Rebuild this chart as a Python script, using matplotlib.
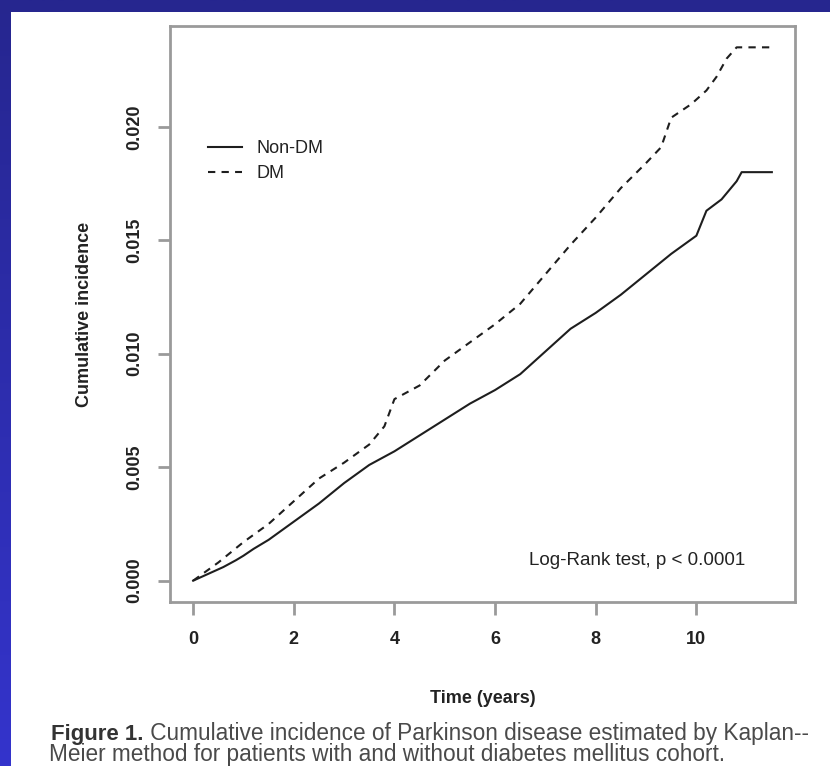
import matplotlib
matplotlib.use("Agg")
import numpy as np
import matplotlib.pyplot as plt
from matplotlib.patches import Rectangle
from matplotlib.colors import LinearSegmentedColormap

plt.rcParams['font.family'] = ['Liberation Sans', 'DejaVu Sans']

# Kaplan-Meier cumulative incidence
non_dm_t = [0, 0.3, 0.6, 0.85, 1.0, 1.2, 1.5, 2.0, 2.5, 3.0, 3.5, 4.0, 4.5, 5.0,
            5.5, 6.0, 6.5, 7.0, 7.5, 8.0, 8.5, 9.0, 9.5, 10.0, 10.2, 10.5, 10.8,
            10.9, 11.5]
non_dm_y = [0, 0.0003, 0.0006, 0.0009, 0.0011, 0.0014, 0.0018, 0.0026, 0.0034,
            0.0043, 0.0051, 0.0057, 0.0064, 0.0071, 0.0078, 0.0084, 0.0091,
            0.0101, 0.0111, 0.0118, 0.0126, 0.0135, 0.0144, 0.0152, 0.0163,
            0.0168, 0.0176, 0.0180, 0.0180]

dm_t = [0, 0.5, 1.0, 1.5, 2.0, 2.5, 3.0, 3.5, 3.8, 4.0, 4.5, 5.0, 5.5, 6.0, 6.5,
        7.0, 7.5, 8.0, 8.5, 9.0, 9.3, 9.5, 9.9, 10.2, 10.4, 10.6, 10.8, 11.5]
dm_y = [0, 0.0008, 0.0017, 0.0025, 0.0035, 0.0045, 0.0052, 0.0060, 0.0068,
        0.0080, 0.0086, 0.0097, 0.0105, 0.0113, 0.0122, 0.0135, 0.0148, 0.0160,
        0.0173, 0.0184, 0.0191, 0.0204, 0.0210, 0.0216, 0.0222, 0.0230, 0.0235,
        0.0235]

x_ticks = [0, 2, 4, 6, 8, 10]
y_ticks = [0.000, 0.005, 0.010, 0.015, 0.020]
y_tick_labels = ["0.000", "0.005", "0.010", "0.015", "0.020"]

W, H = 830, 766
fig = plt.figure(figsize=(W / 100, H / 100), dpi=100)

# blue slide background, a little lighter towards the bottom
bg = fig.add_axes([0, 0, 1, 1], zorder=-10)
bg.imshow(np.linspace(0, 1, 256).reshape(-1, 1), aspect='auto', extent=(0, 1, 0, 1),
          cmap=LinearSegmentedColormap.from_list('slide', ['#26268f', '#3434cc']))
bg.set_axis_off()
bg.add_patch(Rectangle((11 / W, 0), 1, (H - 12) / H, facecolor='white', edgecolor='none'))
bg.set_xlim(0, 1)
bg.set_ylim(0, 1)

ax = fig.add_axes([170 / W, (H - 602) / H, (795 - 170) / W, (602 - 26) / H])
ax.patch.set_alpha(0)
ax.plot(non_dm_t, non_dm_y, color='#1e1e1e', lw=1.5, label='Non-DM')
ax.plot(dm_t, dm_y, color='#1e1e1e', lw=1.5, dashes=(3.5, 3), label='DM')

ax.set_xlim(-0.46, 11.96)
ax.set_ylim(-0.00094, 0.02444)
ax.set_xticks(x_ticks)
ax.set_xticklabels([str(v) for v in x_ticks], fontweight='bold', fontsize=13, color='#222222')
ax.set_yticks(y_ticks)
ax.set_yticklabels(y_tick_labels, rotation=90, va='center', fontweight='bold',
                   fontsize=13, color='#222222')
for s in ax.spines.values():
    s.set_color('#9a9a9a')
    s.set_linewidth(2)
ax.tick_params(axis='both', length=9, width=2, color='#9a9a9a')
ax.tick_params(axis='x', pad=12)
ax.tick_params(axis='y', pad=10)

ax.set_xlabel('Time (years)', fontweight='bold', fontsize=13, color='#222222', labelpad=30)
ax.set_ylabel('Cumulative incidence', fontweight='bold', fontsize=13, color='#222222', labelpad=24)

ax.legend(loc='upper left', bbox_to_anchor=(0.035, 0.83), frameon=False, fontsize=13,
          handlelength=1.9, handletextpad=0.8, labelspacing=0.45, labelcolor='#222222')
ax.text(0.575, 0.0712, 'Log-Rank test, p < 0.0001', transform=ax.transAxes,
        fontsize=13.5, color='#222222', va='center')

# caption
t1 = fig.text(51 / W, 1 - 740 / H, 'Figure 1.', fontweight='bold', fontsize=16,
              color='#333333', va='baseline')
fig.add_artist(matplotlib.text.Annotation(
    ' Cumulative incidence of Parkinson disease estimated by Kaplan--',
    xy=(1, 0), xycoords=t1, va='bottom', fontsize=16.3, color='#4a4a4a',
    annotation_clip=False))
fig.text(49 / W, 1 - 761 / H, 'Meier method for patients with and without diabetes mellitus cohort.',
         fontsize=16.3, color='#4a4a4a', va='baseline')

fig.savefig('out.png', dpi=100)
